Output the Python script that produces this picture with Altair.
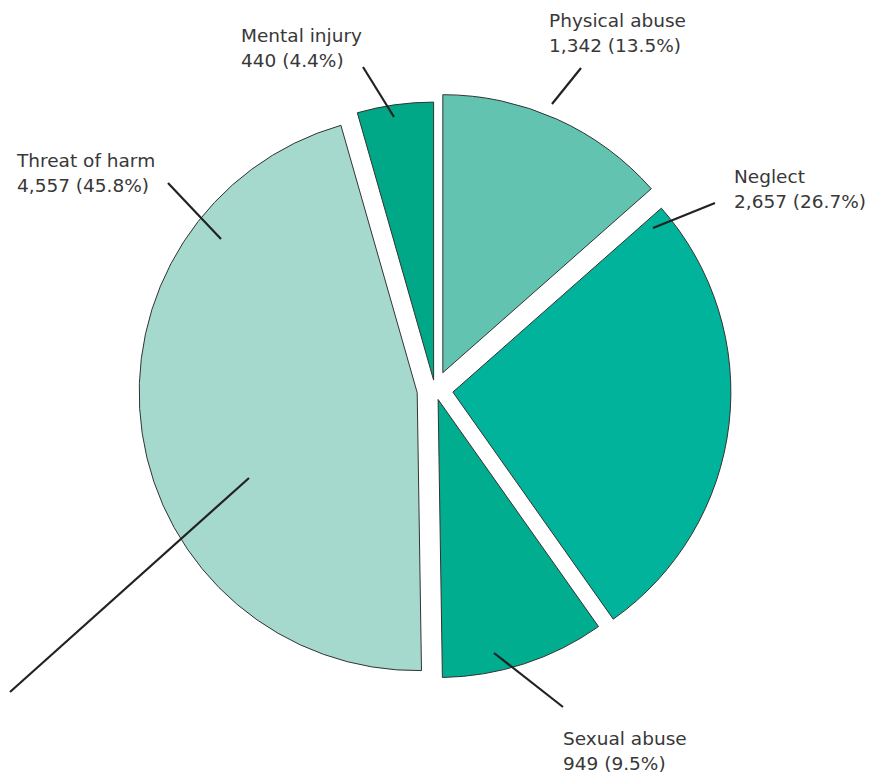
import math
import altair as alt
import pandas as pd

# ---- data ----
categories = ["Physical abuse", "Neglect", "Sexual abuse", "Threat of harm", "Mental injury"]
counts = [1342, 2657, 949, 4557, 440]
count_labels = ["1,342", "2,657", "949", "4,557", "440"]
percents = ["13.5%", "26.7%", "9.5%", "45.8%", "4.4%"]
colors = ["#62c4b0", "#00b39a", "#00ad8f", "#a6d9cd", "#00a887"]

# ---- layout (page pixel coordinates) ----
W, H = 859, 766
OX, OY = 8, 8  # page position of the chart origin
CX, CY = 434, 390
R = 278
explode = [19, 18, 10, 18, 10]
label_x = [548, 733, 562, 16, 240]
label_y = [27, 183, 745, 167, 42]
lead_x1 = [580, 714, 493, 167, 362, 248]
lead_y1 = [68, 203, 653, 183, 67, 478]
lead_x2 = [551, 652, 562, 220, 393, 9]
lead_y2 = [104, 228, 707, 239, 117, 692]

total = sum(counts)

slices = pd.DataFrame({
    "category": categories,
    "value": counts,
    "order": list(range(len(categories))),
    "explode": explode,
})

labels = pd.DataFrame({
    "text": [f"{c}\n{n} ({p})" for c, n, p in zip(categories, count_labels, percents)],
    "lx": label_x,
    "ly": label_y,
})

leaders = pd.DataFrame({"x1": lead_x1, "y1": lead_y1, "x2": lead_x2, "y2": lead_y2})

xs = alt.Scale(domain=[OX, OX + W], range=[0, W])
ys = alt.Scale(domain=[OY, OY + H], range=[0, H])

pie = (
    alt.Chart(slices)
    .transform_window(cum="sum(value)", sort=[{"field": "order"}], frame=[None, 0])
    .transform_calculate(
        start="datum.cum - datum.value",
        mid=f"(datum.cum - datum.value / 2) / {total} * 2 * PI",
    )
    .transform_calculate(
        cx=f"{CX} + datum.explode * sin(datum.mid)",
        cy=f"{CY} - datum.explode * cos(datum.mid)",
    )
    .mark_arc(outerRadius=R, stroke="#333333", strokeWidth=1)
    .encode(
        theta=alt.Theta("start:Q", scale=alt.Scale(domain=[0, total], range=[0, 2 * math.pi]), stack=None),
        theta2="cum:Q",
        x=alt.X("cx:Q", scale=xs, axis=None),
        y=alt.Y("cy:Q", scale=ys, axis=None),
        color=alt.Color("category:N", scale=alt.Scale(domain=categories, range=colors), legend=None),
    )
)

lines = (
    alt.Chart(leaders)
    .mark_rule(color="#222222", strokeWidth=2.2)
    .encode(
        x=alt.X("x1:Q", scale=xs, axis=None),
        y=alt.Y("y1:Q", scale=ys, axis=None),
        x2="x2:Q",
        y2="y2:Q",
    )
)

text = (
    alt.Chart(labels)
    .mark_text(align="left", baseline="alphabetic", lineBreak="\n", lineHeight=25,
               font="DejaVu Sans", fontSize=18.5, color="#383838")
    .encode(
        x=alt.X("lx:Q", scale=xs, axis=None),
        y=alt.Y("ly:Q", scale=ys, axis=None),
        text="text:N",
    )
)

chart = (
    alt.layer(pie, lines, text)
    .properties(width=W, height=H, padding=0,
                autosize=alt.AutoSizeParams(type="fit", contains="padding"))
    .configure_view(stroke=None)
)

chart.save("out.html", embed_options={"renderer": "svg", "actions": False})
